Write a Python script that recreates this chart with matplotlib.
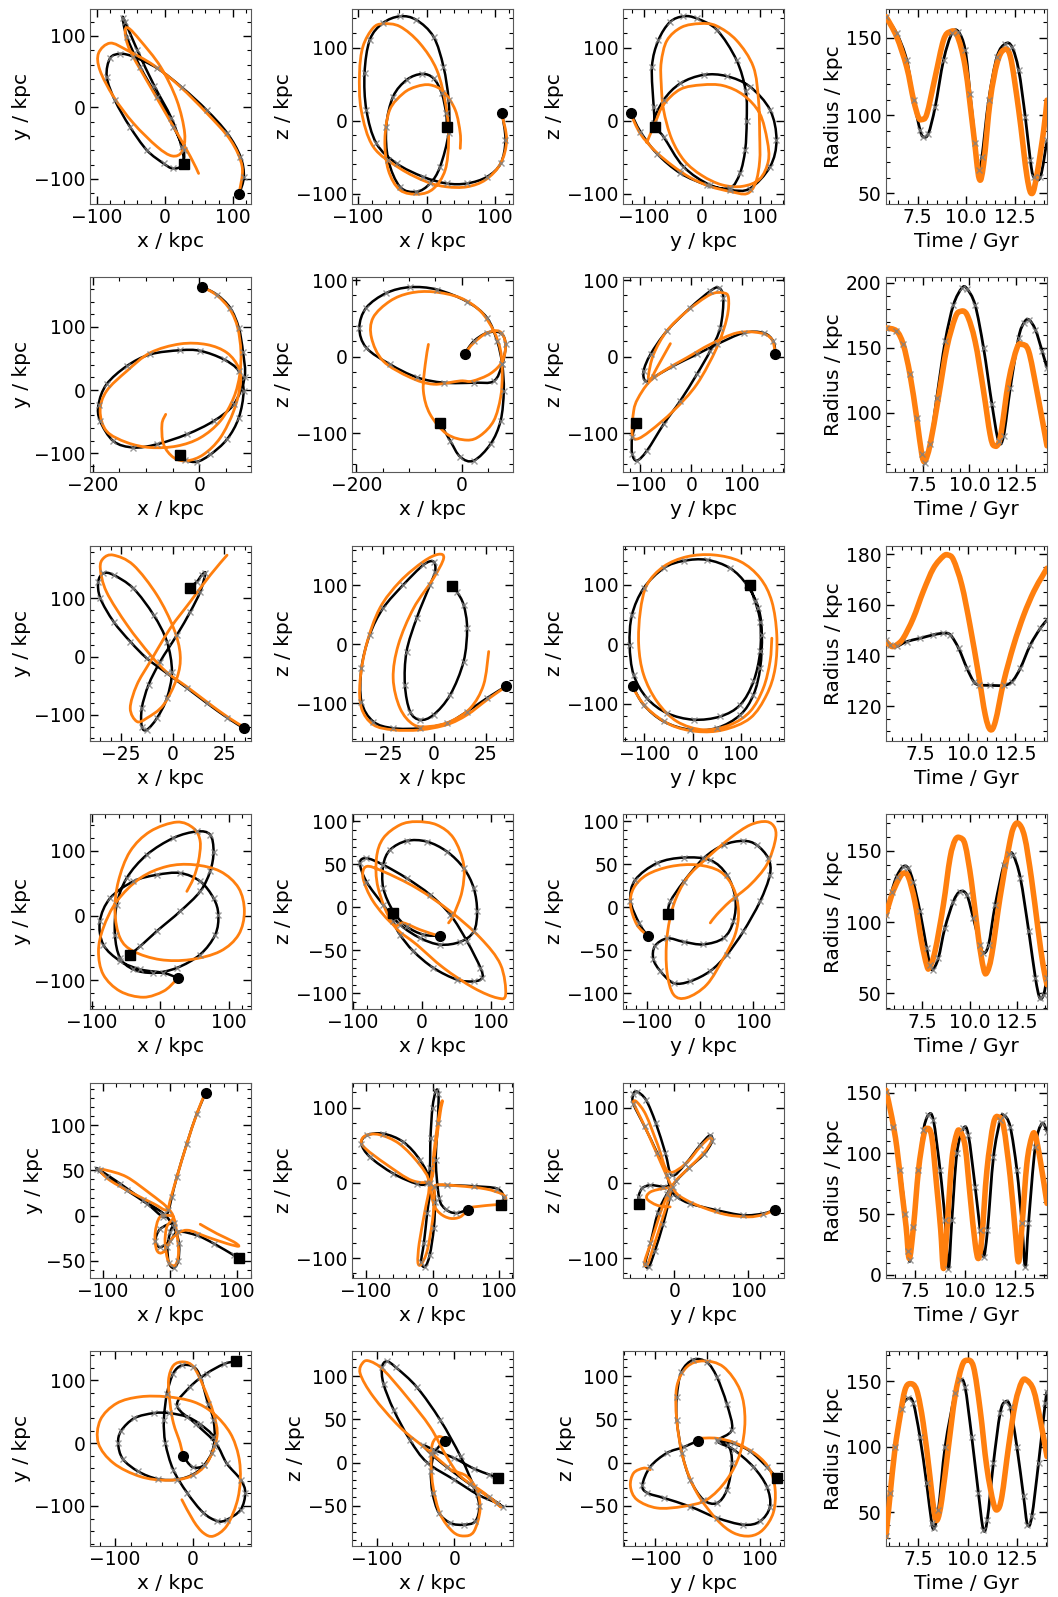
import numpy as np
import matplotlib
matplotlib.use("Agg")
import matplotlib.pyplot as plt
from matplotlib.ticker import MultipleLocator, AutoMinorLocator
from matplotlib.path import Path
from matplotlib.patches import PathPatch

# --- orbit data (kpc, Gyr) ---
# row 1
r1_xy_sim = [(110, -120.6), (116.5, -97), (111.5, -69), (92, -36), (62, -4), (25.5, 28), (-11, 55), (-46, 71),
             (-65, 75), (-80, 69), (-85, 43), (-73, 10), (-51, -27), (-26, -60), (-1.5, -78.5), (12, -85.5),
             (25.5, -81), (28, -60), (13, -27), (-11, 15), (-36, 57), (-55.5, 99), (-61.5, 125), (-58, 120),
             (-40, 80), (-15, 30), (10, -15), (25, -55), (29, -79)]
r1_xy_fit = [(110, -118), (114, -83), (97, -46), (62, -8), (23, 29), (-16, 59), (-55, 80), (-80, 90), (-97, 76),
             (-95, 52), (-75, 15), (-46, -22), (-11, -55), (11, -68), (25.5, -62), (29.5, -36), (18, 10), (-6, 57),
             (-36, 94), (-53, 111), (-58, 106), (-51, 80), (-21, 29), (13, -27), (38, -69), (50, -92.5)]
r1_xz_sim = [(110, 10), (115, -26.5), (108, -58.6), (88, -77), (59, -86), (29, -86), (-5, -77), (-44, -58.6),
             (-73.5, -31), (-88, 14.6), (-90.7, 65), (-83, 110.8), (-64, 133.6), (-39, 143), (-15, 138), (10, 115),
             (24.5, 74), (32, 28), (32, -17), (19.6, -63), (5, -86), (-15, -97.5), (-39, -90.6), (-56, -54),
             (-59, -8), (-49, 33), (-29, 56), (-7, 64), (10, 58), (22, 37.5), (28.4, 10), (29.4, -8)]
r1_xz_fit = [(110, 8), (116.7, -26.5), (108, -58.6), (86, -81), (59, -90.6), (29, -90.6), (0, -83.8), (-39, -65.4),
             (-78, -35.7), (-95.6, 14.6), (-98, 65), (-93, 101.6), (-78.4, 126.8), (-63.7, 132.7), (-39, 129),
             (-10, 106), (14.7, 69.6), (28.4, 19), (32, -26.5), (27, -67.7), (10, -93), (-12, -100.7), (-39, -95),
             (-56, -67.7), (-61, -26.5), (-54, 14.6), (-34, 37.5), (-15, 46.7), (5, 49), (24.5, 39.8), (41.7, 14.6),
             (49, -17.4), (49, -38)]
r1_yz_sim = [(-122, 10), (-106, -15), (-77.6, -45), (-37, -72), (8.6, -88), (49, -95), (83, -93), (118, -63),
             (129, -26.5), (118, 14.6), (83, 46.7), (43, 61), (3, 62.7), (-37, 51), (-66, 28), (-83, -3.7),
             (-66, -22), (-31.6, -63), (14, -88), (49, -92), (66, -72), (75, -40), (77.6, 0), (76, 40), (60, 83),
             (26, 124.5), (-8.6, 140), (-31.6, 143), (-55, 135), (-75, 110), (-86, 74), (-83, 19), (-80.5, -8)]
r1_yz_fit = [(-122, 8), (-106, -18), (-80, -42), (-50, -62), (-20, -78), (14, -90), (49, -97), (78, -100), (93, -85),
             (100, -55), (100, -20), (98, 28), (89, 74), (60, 110), (25, 130), (-3, 133), (-35, 128), (-60, 110),
             (-70, 80), (-70, 51), (-66, 15), (-52, -25), (-30, -55), (0, -75), (35, -88), (70, -90), (100, -80),
             (115, -55), (113, -27), (100, 10), (72, 35), (37, 48), (0, 49), (-37, 43), (-66, 22), (-80, -2),
             (-95, -30)]
r1_t_sim = [5.86, 6.41, 6.93, 7.28, 7.62, 7.79, 8.05, 8.4, 8.83, 9.26, 9.6, 9.95, 10.2, 10.47, 10.64, 10.81, 11.16,
            11.59, 12.02, 12.36, 12.71, 13.05, 13.31, 13.48, 13.83, 14.17]
r1_r_sim = [163, 152.7, 135.5, 110, 90.6, 86.3, 88.4, 105.6, 135.5, 152.7, 153.7, 142, 114, 82, 65, 73.4, 109.9,
            137.7, 146, 144, 129, 99, 71.3, 60.6, 60.6, 84]
r1_t_fit = [5.86, 6.41, 6.93, 7.28, 7.53, 7.71, 7.97, 8.4, 8.83, 9.17, 9.52, 9.95, 10.38, 10.67, 10.9, 11.24, 11.59,
            11.93, 12.28, 12.71, 13.14, 13.4, 13.66, 14.0, 14.17]
r1_r_fit = [163.4, 150.5, 131, 110, 99, 97.4, 101, 124.8, 148.4, 153.7, 151.6, 131, 88.4, 59.5, 69, 109.9, 133.4,
            142, 137.7, 103.4, 60.6, 49.9, 62.7, 90.6, 109.8]

# row 2
r2_xy_sim = [(5, 163.6), (33, 151), (58, 130), (74, 98.7), (82, 60), (85, 20), (64.6, -22.7), (27, -49), (-23, -70),
             (-80, -86), (-123.5, -91), (-161, -81), (-186, -49), (-189, -23), (-174, 9), (-136, 38), (-92, 56.5),
             (-36, 63), (2, 62), (46, 48.5), (74, 30), (83, -1.6), (74, -44), (52, -78), (21, -102), (-4, -113.5),
             (-26, -111), (-36, -103)]
r2_xy_fit = [(5, 163.6), (33, 150), (58, 127), (72, 98.7), (78, 61.7), (76, 25), (64.6, -12), (39.5, -49), (2, -75.5),
             (-42, -88.7), (-92, -91), (-136, -83), (-174, -65), (-186, -33), (-174, -1.6), (-136, 30), (-92, 59),
             (-36, 73), (14, 72), (52, 59), (74, 35), (77, 9), (64.6, -33), (39.5, -75.5), (8, -102), (-23, -112),
             (-48, -107), (-67, -86), (-70, -54), (-63, -38.5)]
r2_xz_sim = [(5.7, 4), (23, 20), (48, 31), (74, 31), (83.4, 16), (77, -10), (61, -32), (23, -34), (-34, -34),
             (-85, -27), (-136, -10), (-181, 11.7), (-194, 37.7), (-181, 63.8), (-143, 83), (-98, 90.7), (-47, 87.6),
             (10, 72), (48, 50.8), (67.5, 20), (77, -10), (80, -44.7), (74, -83.7), (55, -114), (23, -135.8),
             (-2.5, -131), (-21.7, -109.8), (-40.8, -86.8)]
r2_xz_fit = [(5.7, 4), (23, 18), (48, 31), (72, 33), (83, 18), (78, -5), (55, -22), (20, -32), (-2.5, -31.7),
             (-53.5, -36), (-98, -27), (-149, -5.6), (-171, 24.7), (-168, 50.8), (-136, 72.5), (-98, 83),
             (-53.5, 84.6), (-2.5, 76.8), (35.7, 59.4), (61, 33.4), (74, 7.4), (77, -23), (74, -53), (61, -83.7),
             (35.7, -103), (10, -109), (-28, -101), (-60, -75), (-72.6, -44.7), (-69, -10), (-63, 16)]
r2_yz_sim = [(165, 4), (161, 20), (142, 31), (102.6, 31), (50, 16), (11, 3), (-35, -12), (-74, -27), (-90, -32),
             (-93.5, -18.7), (-80, 3), (-48, 33.4), (-2, 63.8), (37, 85.5), (53.6, 90), (63, 76.8), (57, 37.7),
             (37, 7.4), (11, -23), (-21.6, -57.7), (-54, -88), (-87, -122.8), (-106.5, -135.8), (-116, -127),
             (-116, -105), (-108, -87)]
r2_yz_fit = [(165, 4), (158, 22.6), (135, 31), (89.5, 31), (37, 16), (-8.5, -1.3), (-54, -18.7), (-83.7, -34),
             (-105, -55), (-113, -70.7), (-116, -101), (-106.5, -107.6), (-80, -96.7), (-35, -70.7), (11, -36),
             (50, 11.7), (70, 50.8), (73, 76.8), (63, 83.3), (37, 81), (-8.5, 59.4), (-48, 33.4), (-74, 3),
             (-84, -25), (-80, -30), (-67, -14), (-41, 17)]
r2_t_sim = [5.54, 6.1, 6.46, 6.82, 7.18, 7.45, 7.62, 7.9, 8.25, 8.7, 9.14, 9.59, 9.86, 10.3, 10.75, 11.2, 11.55,
            11.82, 12.18, 12.62, 12.9, 13.16, 13.52, 13.88, 14.14]
r2_r_sim = [165.4, 162.8, 152.6, 129.5, 96, 68, 61.5, 75.6, 111.5, 155, 183, 196, 195.6, 183, 150, 106.4, 78, 82,
            119, 157.7, 169, 171.8, 164, 147.4, 134.6]
r2_t_fit = [5.54, 6.1, 6.46, 6.82, 7.18, 7.45, 7.62, 7.9, 8.34, 8.79, 9.23, 9.5, 9.86, 10.3, 10.75, 11.1, 11.32,
            11.64, 12.09, 12.54, 12.8, 13.16, 13.6, 14.14]
r2_r_fit = [165.4, 163, 152.6, 129.5, 96, 68, 62.8, 75.6, 111.5, 150, 173, 178, 175.6, 155, 116.7, 83.3, 74.4, 80.8,
            124.4, 150, 152.6, 147.4, 116.7, 74.4]

# row 3
r3_xy_sim = [(34.5, -123), (26.4, -104.6), (16.7, -80), (7, -54), (-2.75, -28.6), (-12.5, -2.9), (-20.5, 25.7),
             (-28.6, 60), (-35, 100), (-36, 128.6), (-33.5, 142.9), (-28.6, 140), (-19, 117), (-9.2, 71.4),
             (-2.75, 25.7), (-0.3, -25.7), (-2.75, -71.4), (-7.6, -105.7), (-12.5, -125.7), (-14.9, -120),
             (-14.9, -88.6), (-11.65, -48.6), (-6, -8.6), (2.1, 37), (8.6, 77), (13.4, 111.4), (15.9, 143),
             (14.2, 140), (11.8, 128.6), (8.25, 118)]
r3_xy_fit = [(34.5, -121), (26.4, -103), (16.7, -78), (7, -52), (-2.75, -27), (-10.8, 3), (-22, 54), (-32, 111),
             (-35, 151), (-33.5, 168.6), (-28.6, 174), (-19, 157), (-7.6, 105.7), (0.5, 48.6), (3.7, 2.9),
             (2.1, -37), (-4.4, -82.9), (-12.5, -105.7), (-17.3, -111.4), (-20.5, -88.6), (-17.3, -48.6),
             (-10.8, -8.6), (-1.1, 48.6), (8.6, 94.3), (18.3, 140), (26.4, 174)]
r3_xz_sim = [(34.7, -71.5), (25.7, -91), (16, -113.8), (6.2, -133.5), (-6.8, -142), (-19.9, -142), (-29.6, -130.7),
             (-35.3, -97), (-35.3, -40.6), (-31.3, 15.8), (-24.8, 60.8), (-15, 100.3), (-5.2, 134), (-0.3, 139.7),
             (0.5, 122.8), (-2, 100.3), (-8.5, 43.9), (-13.4, -12.4), (-14.2, -68.7), (-11.7, -113.8),
             (-6.8, -127.9), (-0.3, -119.4), (7.8, -85.6), (14.3, -29.3), (16, 27), (14.3, 66.5), (11, 89), (8.6, 99)]
r3_xz_fit = [(33.9, -74), (25.7, -94), (16, -119.4), (6.2, -136), (-6.8, -144.8), (-19.9, -144.8), (-29.6, -136),
             (-35.3, -108), (-36, -63), (-32.9, -1), (-26.4, 60.8), (-16.6, 106), (-5.2, 139.7), (2.1, 152),
             (4.6, 145), (-0.3, 111.5), (-10, 60.8), (-17.4, -1), (-19.9, -57.5), (-16.6, -108), (-10, -136),
             (-2, -139), (7.8, -130.7), (17.6, -108), (24, -68.7), (26.5, -12.4)]
r3_yz_sim = [(-124, -71), (-101.7, -102), (-60, -130), (-4.8, -144), (50.5, -141), (99, -119), (126.6, -85),
             (140.5, -40), (144, 15.7), (137, 60.5), (112.8, 99.7), (78, 127.7), (30, 141.7), (-18.7, 140),
             (-60, 127.7), (-101.7, 94), (-126, 49), (-130.8, -1), (-122.5, -51.5), (-94.8, -90.8), (-53, -116),
             (2, -127), (57.4, -121.6), (99, -102), (126.6, -62.7), (140.5, -12.3), (140.5, 38), (130, 71.7),
             (118.3, 98.6)]
r3_yz_fit = [(-124, -74), (-94.8, -107.6), (-46, -135.6), (9, -146.8), (64.4, -144), (119.7, -124.4), (154, -85),
             (171.6, -40.3), (175, 15.7), (164.7, 71.7), (140.5, 111), (99, 139), (43.6, 150), (-11.8, 147),
             (-60, 130.5), (-94.8, 99.7), (-108.6, 55), (-112, -1), (-101.7, -51.5), (-74, -96.4), (-32.5, -130),
             (22.8, -144), (78, -135.6), (119.7, -113), (147, -74), (161, -29), (164.7, 10)]
r3_t_sim = [5.66, 5.87, 6.22, 6.75, 7.46, 8.17, 8.7, 9.06, 9.5, 9.94, 10.3, 10.56, 11.18, 11.89, 12.33, 12.77,
            13.3, 13.83, 14.18]
r3_r_sim = [146.2, 144.2, 143.6, 145.5, 146.8, 148.2, 148.8, 148.2, 142.9, 135, 129.7, 128.4, 128.2, 128.2, 129.7,
            135, 144.2, 150.8, 154]
r3_t_fit = [5.66, 5.96, 6.22, 6.57, 7.1, 7.63, 8.17, 8.7, 8.96, 9.23, 9.67, 10.1, 10.56, 10.91, 11.18, 11.45,
            11.89, 12.42, 12.95, 13.48, 13.92, 14.18]
r3_r_fit = [145.5, 143.6, 144.2, 146.8, 154.7, 165.3, 174.5, 179.3, 179.7, 177.8, 167.9, 152.1, 132.4, 116.6,
            110.7, 114, 129.7, 144.2, 156, 165.3, 171.2, 174.5]

# row 4
r4_xy_sim = [(25.4, -96), (4.9, -88.4), (-29, -83), (-58.5, -70), (-83, -44.7), (-88, -8.7), (-73, 27), (-39, 53),
             (-4.9, 63), (29.3, 65.8), (58.5, 53), (78, 27), (85, 1.5), (80.5, -29.3), (58.5, -60), (24.4, -80.7),
             (-9.8, -88.4), (-39, -83), (-58.5, -65.3), (-66, -29.3), (-63.4, 17), (-48.8, 58), (-19.5, 94),
             (19.5, 120), (53.7, 130), (73, 125), (78, 99), (73, 68.4), (58.5, 37.5), (29.3, 6.7), (-4.9, -24),
             (-29, -47.3), (-44, -60)]
r4_xy_fit = [(22, -101), (4.9, -116.7), (-24.4, -126), (-58.5, -116.7), (-83, -91), (-90, -55), (-83, -19),
             (-63.4, 22), (-29, 58), (9.8, 76), (48.8, 78.7), (87.8, 68.4), (114.6, 42.7), (123, 6.7),
             (114.6, -29.3), (87.8, -55), (44, -67.9), (0, -67.9), (-39, -55), (-58.5, -34.4), (-66, 6.7), (-61, 53),
             (-44, 99), (-14.6, 130), (24.4, 144.5), (48.8, 135), (58.5, 114.7), (56, 83.8), (48.8, 58), (39, 37.5)]
r4_xz_sim = [(25.9, -33), (2.4, -31.7), (-22, -22), (-41.5, -4.6), (-56, 22.4), (-56, 49.5), (-46, 67), (-22, 77.4),
             (7.3, 76.6), (36.6, 65), (61, 45.7), (75.6, 22.4), (80.5, -4.6), (75.6, -27.9), (56, -40), (26.8, -43.3),
             (-2.4, -35.6), (-31.7, -20), (-56, 3), (-80.5, 30), (-90, 51.5), (-80.5, 57.3), (-56, 49.5),
             (-22, 34), (12.2, 14.7), (41.5, -8.5), (65.9, -39.5), (85.4, -70.4), (87.8, -82), (75.6, -86),
             (51.2, -84), (17, -70.4), (-12.2, -51), (-31.7, -31.7), (-41.5, -16.3), (-42.4, -6.6)]
r4_xz_fit = [(22, -32.5), (-2.4, -26), (-26.8, -18), (-41.5, -20), (-70.7, 7), (-85.4, 34), (-80.5, 47.6),
             (-56, 41.8), (-7.3, 22.4), (41.5, -4.6), (85.4, -35.6), (114.6, -66.6), (122, -101.4), (109.8, -105.3),
             (75.6, -93.7), (31.7, -70.4), (-7.3, -43.3), (-41.5, -20), (-63.4, 22.4), (-65.9, 57.3), (-56, 80.5),
             (-31.7, 96), (-7.3, 99.8), (22, 96), (46.3, 80.5), (61, 49.5), (58.5, 18.6), (46.3, -8.5), (39, -18)]
r4_yz_sim = [(-98.75, -33), (-115, -18), (-131, 8), (-122, 32), (-81, 51.5), (-31, 58), (19, 55), (50, 38),
             (66, 11), (62.5, -16), (44, -35.6), (6, -43), (-31, -40), (-62, -36), (-85, -45), (-88, -60),
             (-75, -74), (-50, -88), (-19, -86), (19, -74), (50, -55), (81, -28), (112.5, 7), (131, 38), (128, 57),
             (106, 72.7), (81, 77.4), (44, 72.7), (6, 57), (-31, 30), (-56, 7), (-61, -7.4)]
r4_yz_fit = [(-98.75, -33), (-119, -20), (-131, 3), (-125, 22.4), (-100, 38), (-56, 47.6), (-6, 49.5),
             (37.5, 41.8), (62.5, 22.4), (72, -4.6), (65.6, -31.7), (44, -58.8), (12.5, -89.8), (-25, -105),
             (-50, -101.4), (-62.5, -74.3), (-62.5, -35.6), (-50, 3), (-25, 34), (12.5, 57.3), (56, 80.5),
             (94, 96), (125, 99.8), (140.6, 92), (140.6, 76.6), (125, 49.5), (94, 26.3), (56, 7), (31, -8.5),
             (19, -18)]
r4_t_sim = [5.6, 5.9, 6.16, 6.5, 6.77, 7.03, 7.39, 7.74, 7.92, 8.06, 8.36, 8.7, 9.15, 9.5, 9.86, 10.2, 10.56,
            10.73, 11.0, 11.35, 11.8, 12.06, 12.3, 12.68, 13.12, 13.47, 13.7, 13.9, 14.08]
r4_r_sim = [105, 121.5, 132, 139, 137.9, 128.5, 107.5, 81.8, 70, 66.6, 74.8, 95.8, 114.5, 121.5, 119, 102.8, 84,
            78.3, 84, 112, 140, 147.7, 147.2, 130.8, 93.5, 60.7, 46.7, 49, 60.7]
r4_t_fit = [5.6, 5.9, 6.25, 6.5, 6.77, 7.12, 7.47, 7.74, 7.88, 8.18, 8.62, 8.97, 9.24, 9.5, 9.77, 10.1, 10.47,
            10.73, 10.9, 11.17, 11.6, 12.06, 12.3, 12.57, 12.9, 13.26, 13.6, 13.87, 14.08]
r4_r_fit = [105, 119, 129.7, 134.3, 132, 114.5, 86.4, 70, 67.8, 79.4, 112, 144.9, 157.7, 159.3, 154.2, 128.5, 88.8,
            67.8, 64.3, 77, 116.8, 151.9, 165.9, 169.4, 160, 130.8, 95.8, 70, 56]

# row 5
r5_xy_sim = [(53.2, 136.2), (39.8, 113), (24.9, 79.7), (10, 42.8), (2.5, 20.7), (-2.5, 5.9), (-10, -1.5),
             (-34.8, 13.3), (-64.7, 28), (-94.5, 42.8), (-109.5, 52), (-104.5, 50.2), (-74.6, 35.4), (-39.8, 17),
             (-10, 2.2), (5, -12.5), (13, -30), (12, -50), (5, -58), (-2, -52), (-4, -35), (0, -18), (5, -8),
             (-15, -15), (-22, -28), (-15, -35), (0, -28), (12, -18), (40, -22), (65, -31), (95, -44), (102, -46.9)]
r5_xy_fit = [(50.7, 133), (39.8, 113), (24.9, 79.7), (10, 42.8), (0, 17), (-5, 5.9), (-24.9, 13.3), (-54.7, 24.4),
             (-89.6, 39), (-104.5, 50.2), (-94.5, 50.2), (-64.7, 42.8), (-29.9, 24.4), (-5, 9.6), (5, -1.5),
             (10, -20), (12.4, -42), (7.5, -55), (-2.5, -51.3), (-7.5, -31), (-5, -12.5), (5, -1.5), (-15, -1.5),
             (-22.4, -20), (-19.9, -38.4), (-10, -40.2), (5, -23.6), (24.9, -16.2), (54.7, -23.6), (84.6, -31),
             (102, -34), (94.5, -29), (69.7, -20), (44.8, -9.6)]
r5_xz_sim = [(53.4, -35.3), (35, -40), (20, -35), (10, -20), (5, 30), (8, 80), (9, 118), (5, 122), (0, 100),
             (-3, 60), (-4, 20), (-8, 0), (-24, -1), (-59, 12.4), (-94, 34.4), (-106.8, 52), (-99, 63), (-74, 65.3),
             (-43.8, 54.3), (-18.6, 30), (-3.5, 0), (-8, -40), (-13, -80), (-17, -105), (-11, -111), (-4, -95),
             (2, -60), (4, -25), (3, -5), (22, -3), (62, -4.4), (97, -7.5), (107, -18.5), (103, -28.7)]
r5_xz_fit = [(53.4, -35.3), (41.8, -45), (26.7, -47), (11.6, -40.6), (1.5, -27.4), (-2, 0), (5, 50), (12, 95),
             (15, 108), (13, 105), (8, 80), (2, 40), (-2, 5), (-30, 3), (-70, 25), (-100, 45), (-107, 55),
             (-100, 63), (-80, 64), (-50, 52), (-20, 25), (-5, 0), (-12, -40), (-20, -80), (-22, -105), (-17, -108),
             (-8, -90), (0, -50), (3, -15), (5, -3), (40, -4), (80, -8), (105, -15), (110, -22), (100, -28),
             (80, -30), (60, -32)]
r5_yz_sim = [(136.3, -35.3), (120, -40.6), (93, -42.8), (57.4, -36.2), (21.5, -27.4), (3.6, -18.5), (-5, -8),
             (-10, 10), (-23, 40), (-40, 75), (-55, 105), (-55, 118), (-50, 121), (-38, 110), (-25, 80), (-12, 40),
             (-3, 10), (15, 25), (35, 50), (48, 63), (51, 55), (40, 38), (20, 20), (3, 3), (-10, -15), (-22, -40),
             (-32, -80), (-39, -107), (-34, -111), (-26, -90), (-15, -55), (-6, -20), (-2, -5), (-15, -5),
             (-32, -3), (-43, -7), (-48, -18), (-47, -28)]
r5_yz_fit = [(136.3, -35.3), (120, -42), (100, -45), (70, -42), (40, -33), (15, -22), (0, -10), (-15, 20),
             (-35, 65), (-52, 100), (-55, 108), (-50, 107), (-38, 90), (-22, 50), (-8, 15), (15, 25), (35, 48),
             (48, 60), (50, 55), (40, 40), (20, 20), (0, 0), (-15, -30), (-30, -75), (-40, -105), (-36, -108),
             (-28, -85), (-15, -45), (-5, -10), (-14, -7.5), (-32, -12), (-37, -20.7), (-23, -29.6), (-5.4, -31.8)]
r5_t_sim = [6.04, 6.41, 6.75, 7.0, 7.16, 7.25, 7.42, 7.67, 7.92, 8.17, 8.42, 8.76, 9.01, 9.18, 9.35, 9.6, 9.93,
            10.18, 10.52, 10.77, 10.94, 11.14, 11.44, 11.78, 11.95, 12.28, 12.62, 12.87, 13.04, 13.2, 13.54, 13.88,
            14.13]
r5_r_sim = [150.8, 122, 86, 50.5, 20, 12, 39.6, 86, 119, 131.6, 127.5, 86, 45, 5, 45, 100, 120.6, 115, 72.5, 36.8,
            15, 36.8, 97, 127.5, 131.6, 122, 86, 42.3, 6.6, 42.3, 105.5, 124.7, 118]
r5_t_fit = [6.04, 6.33, 6.58, 6.83, 7.05, 7.21, 7.42, 7.67, 7.92, 8.09, 8.34, 8.59, 8.79, 8.93, 9.1, 9.35, 9.6,
            9.77, 10.02, 10.27, 10.52, 10.69, 10.86, 11.11, 11.44, 11.7, 11.95, 12.28, 12.53, 12.7, 12.87, 13.12,
            13.37, 13.54, 13.79, 14.13]
r5_r_fit = [152, 130, 105.5, 69.8, 39.6, 13.5, 39.6, 86, 113.7, 120.6, 113.7, 72.5, 36.8, 5.2, 36.8, 94.5, 116.5,
            117.9, 105.5, 64.3, 25.8, 13.5, 31.3, 86, 124.7, 130, 122, 80.8, 36.8, 10.7, 39.6, 91.8, 113.7, 115,
            94.5, 58.8]

# row 6
r6_xy_sim = [(-12.5, -20), (0, -38), (15, -35), (25, -15), (27, 10), (10, 30), (-7, 42), (-30, 48), (-50, 48),
             (-75, 40), (-92, 20), (-96, 0), (-90, -25), (-70, -45), (-45, -57), (-20, -58), (0, -50), (15, -35),
             (28, -5), (27, 37), (20, 63), (10, 106), (1, 122), (-14, 124), (-25, 111), (-33, 79), (-37, 37),
             (-35, 0), (-25, -42), (-7, -79), (14, -111), (32, -124), (44, -122), (62, -106), (68, -79), (62, -58),
             (44, -32), (30, 0), (5, 30), (-20, 60), (-3, 90), (18, 111), (40, 126), (56, 131)]
r6_xy_fit = [(-12.5, -20), (-16, 0), (-24.6, 31.7), (-29, 63.5), (-31, 100.5), (-24.6, 124), (-11.6, 129.6),
             (1.3, 121.7), (14.2, 90), (27, 47.6), (31.5, 10.6), (18.5, -31.7), (-3, -53), (-33, -59), (-67.7, -53),
             (-102, -31.7), (-121.5, 0), (-119, 37), (-98, 63.5), (-67.7, 74), (-33, 74), (1.3, 66), (27, 47.6),
             (48.7, 16), (59.5, -21), (61.6, -58), (57, -95), (44, -132), (27, -148), (14, -143), (1.3, -124),
             (-13.8, -90)]
r6_xz_sim = [(-11.6, 25.3), (-25, 12), (-30, -10), (-28, -35), (-20, -58), (-5, -70), (12, -72), (27, -68),
             (32, -50), (25, -28), (8, 7), (-18, 49), (-48, 87), (-75, 110), (-87, 117), (-93, 110), (-91, 91),
             (-78, 61), (-57, 26), (-35, 0), (0, -20), (30, -37), (55, -47), (62, -51), (45, -40), (20, -25),
             (-10, -5), (-30, 10), (-40, 20), (-27, 15), (0, 5), (25, -7), (45, -14), (56, -18)]
r6_xz_fit = [(-11.6, 27), (-20, 30), (-28, 22), (-30, 0), (-27, -30), (-18, -60), (-2, -80), (12, -85), (25, -80),
             (33, -55), (29, -32), (16, -16), (0, -10), (-5, -8), (-35, 15), (-70, 41), (-104, 76), (-121, 103),
             (-117, 116), (-108, 117), (-91, 107), (-61, 76), (-31, 41), (-10, 7), (8, -16), (38, -35), (59, -51),
             (55, -47), (25, -28)]
r6_yz_sim = [(-19, 25.3), (-45, 18), (-78, 11), (-110, -5), (-125, -26), (-116, -35), (-84, -41), (-33, -51),
             (18, -64), (69, -72), (101, -68), (120, -51), (114, -28), (88, -5), (50, 15), (20, 25), (47, 38),
             (37, 68), (18, 99), (-1, 116), (-27, 119), (-50, 105), (-59, 76), (-59, 49), (-49, 11), (-33, -20),
             (-8, -43), (18, -47), (37, -32), (47, -1), (40, 20), (18, 26), (50, 22), (82, 13), (114, -5),
             (133, -18)]
r6_yz_fit = [(-17, 28), (18, 28), (56, 22), (94.6, 8.8), (120, -8.4), (130, -31.5), (126.5, -58), (107, -77.5),
             (82, -85), (50, -81.4), (18, -66), (-20.4, -35), (-46, 3), (-59, 49), (-59, 87.5), (-39.6, 110.6),
             (-7.7, 117.5), (30.7, 110.6), (62.6, 83.7), (72, 49), (62.6, 10.7), (37, -20), (-1.3, -43),
             (-46, -50.7), (-97, -52.6), (-135.5, -43), (-148, -27.6), (-142, -12.3), (-122.7, -6.5), (-110, -8.4)]
r6_t_sim = [5.86, 6.06, 6.31, 6.65, 6.99, 7.25, 7.58, 7.92, 8.18, 8.31, 8.52, 8.86, 9.36, 9.62, 9.87, 10.21,
            10.55, 10.8, 11.0, 11.31, 11.65, 11.9, 12.16, 12.5, 12.84, 13.04, 13.26, 13.6, 13.94, 14.03]
r6_r_sim = [31.6, 64.6, 100, 129, 136.7, 133, 107.6, 72, 41.8, 38, 52, 100, 140.5, 150.6, 145.6, 107.6, 64.6, 36.7,
            44.3, 87.3, 125.3, 134, 130.4, 100, 62, 40.5, 46.8, 87.3, 133, 141.8]
r6_t_fit = [5.86, 6.06, 6.31, 6.57, 6.82, 7.08, 7.42, 7.75, 8.09, 8.31, 8.47, 8.69, 9.03, 9.36, 9.7, 9.96, 10.3,
            10.64, 10.97, 11.31, 11.52, 11.74, 12.08, 12.42, 12.75, 13.0, 13.35, 13.69, 14.03]
r6_r_fit = [31.6, 62, 97.5, 122.8, 143, 148, 143, 117.7, 77, 49.4, 44.3, 59.5, 100, 138, 160.8, 165.8, 160.8,
            127.8, 84.8, 57, 52, 62, 100, 132.9, 149.4, 150.6, 143, 120.2, 92.4]

# axis limits and major tick steps, per row: xy, xz, yz, radius
limits = [
    [(-109.6, 127, -134.6, 137.8), (-109, 126, -113.5, 153), (-136, 142, -113.5, 153), (5.86, 14.17, 43.5, 168.3)],
    [(-205, 97, -129, 179), (-208, 97.5, -150, 104), (-134, 182, -150, 104), (5.54, 14.14, 54.6, 204.6)],
    [(-40, 38, -144, 189.7), (-39.9, 38.3, -162.8, 166), (-144.6, 190, -162, 165), (5.66, 14.18, 106.4, 183.3)],
    [(-102.4, 132.7, -143.4, 157), (-101.5, 132.7, -117.6, 108.7), (-145, 157.5, -117.6, 108.7),
     (5.6, 14.08, 39.3, 176)],
    [(-119.4, 120.4, -68.6, 146.9), (-121, 121, -125.4, 132.5), (-69, 148, -125.4, 132.5), (6.04, 14.13, -2.2, 158)],
    [(-132.3, 75.4, -163, 147), (-131.5, 75.4, -96, 129), (-162.3, 147, -96, 129), (5.86, 14.03, 24.6, 172.9)],
]
steps = [
    [(100, 100), (100, 100), (100, 100), (2.5, 50)],
    [(200, 100), (200, 100), (100, 100), (2.5, 50)],
    [(25, 100), (25, 100), (100, 100), (2.5, 20)],
    [(100, 100), (100, 50), (100, 50), (2.5, 50)],
    [(100, 50), (100, 100), (100, 100), (2.5, 50)],
    [(100, 100), (100, 50), (100, 50), (2.5, 50)],
]

rows = [
    (r1_xy_sim, r1_xy_fit, r1_xz_sim, r1_xz_fit, r1_yz_sim, r1_yz_fit, r1_t_sim, r1_r_sim, r1_t_fit, r1_r_fit),
    (r2_xy_sim, r2_xy_fit, r2_xz_sim, r2_xz_fit, r2_yz_sim, r2_yz_fit, r2_t_sim, r2_r_sim, r2_t_fit, r2_r_fit),
    (r3_xy_sim, r3_xy_fit, r3_xz_sim, r3_xz_fit, r3_yz_sim, r3_yz_fit, r3_t_sim, r3_r_sim, r3_t_fit, r3_r_fit),
    (r4_xy_sim, r4_xy_fit, r4_xz_sim, r4_xz_fit, r4_yz_sim, r4_yz_fit, r4_t_sim, r4_r_sim, r4_t_fit, r4_r_fit),
    (r5_xy_sim, r5_xy_fit, r5_xz_sim, r5_xz_fit, r5_yz_sim, r5_yz_fit, r5_t_sim, r5_r_sim, r5_t_fit, r5_r_fit),
    (r6_xy_sim, r6_xy_fit, r6_xz_sim, r6_xz_fit, r6_yz_sim, r6_yz_fit, r6_t_sim, r6_r_sim, r6_t_fit, r6_r_fit),
]

ORANGE = "#ff7f0e"
plt.rcParams["font.size"] = 13.5

W, H = 1058, 1597
col_left = [90, 352, 623, 886]
row_top = [9, 277, 546, 814, 1083, 1351]
ax_w, ax_h = 161, 194.5


def style(ax, lim, step):
    ax.set_xlim(lim[0], lim[1])
    ax.set_ylim(lim[2], lim[3])
    ax.xaxis.set_major_locator(MultipleLocator(step[0]))
    ax.yaxis.set_major_locator(MultipleLocator(step[1]))
    ax.xaxis.set_minor_locator(AutoMinorLocator())
    ax.yaxis.set_minor_locator(AutoMinorLocator())
    ax.tick_params(which="both", direction="in", top=True, right=True, labelsize=13.5)
    ax.tick_params(which="major", length=5.5, width=1)
    ax.tick_params(which="minor", length=3, width=0.8)
    for s in ax.spines.values():
        s.set_color("0.35")


def smooth(ax, pts, color, lw, z):
    # draw a smooth curve through the read points (cubic bezier segments)
    p = np.asarray(pts, dtype=float)
    ext = np.vstack([p[0], p, p[-1]])
    verts = [p[0]]
    codes = [Path.MOVETO]
    for k in range(len(p) - 1):
        p0, p1, p2, p3 = ext[k], ext[k + 1], ext[k + 2], ext[k + 3]
        verts += [p1 + (p2 - p0) / 6.0, p2 - (p3 - p1) / 6.0, p2]
        codes += [Path.CURVE4] * 3
    ax.add_patch(PathPatch(Path(verts, codes), fill=False, edgecolor=color, lw=lw, zorder=z,
                           capstyle="round", joinstyle="round"))


def orbit(ax, sim, fit):
    b = np.array(sim, dtype=float)
    smooth(ax, b, "k", 1.8, 2)
    smooth(ax, fit, ORANGE, 2, 3)
    ax.plot(b[:, 0], b[:, 1], ls="none", marker="x", ms=4, mew=1, color="0.5", alpha=0.8, zorder=4)
    ax.plot(b[0, 0], b[0, 1], "o", color="k", ms=7, zorder=5)
    ax.plot(b[-1, 0], b[-1, 1], "s", color="k", ms=7, zorder=5)


fig = plt.figure(figsize=(W / 100, H / 100), dpi=100)

labels = [("x / kpc", "y / kpc"), ("x / kpc", "z / kpc"), ("y / kpc", "z / kpc"), ("Time / Gyr", "Radius / kpc")]

for i, row in enumerate(rows):
    for j in range(4):
        rect = [col_left[j] / W, 1 - (row_top[i] + ax_h) / H, ax_w / W, ax_h / H]
        ax = fig.add_axes(rect)
        if j < 3:
            orbit(ax, row[2 * j], row[2 * j + 1])
        else:
            t_s, r_s, t_f, r_f = row[6], row[7], row[8], row[9]
            smooth(ax, list(zip(t_s, r_s)), "k", 2, 2)
            smooth(ax, list(zip(t_f, r_f)), ORANGE, 4, 3)
            ax.plot(t_s, r_s, ls="none", marker="x", ms=4.5, mew=1, color="0.5", alpha=0.8, zorder=4)
        style(ax, limits[i][j], steps[i][j])
        ax.set_xlabel(labels[j][0], fontsize=14.5, labelpad=3)
        ax.set_ylabel(labels[j][1], fontsize=14.5, labelpad=2)

fig.savefig("out.png", dpi=100)
